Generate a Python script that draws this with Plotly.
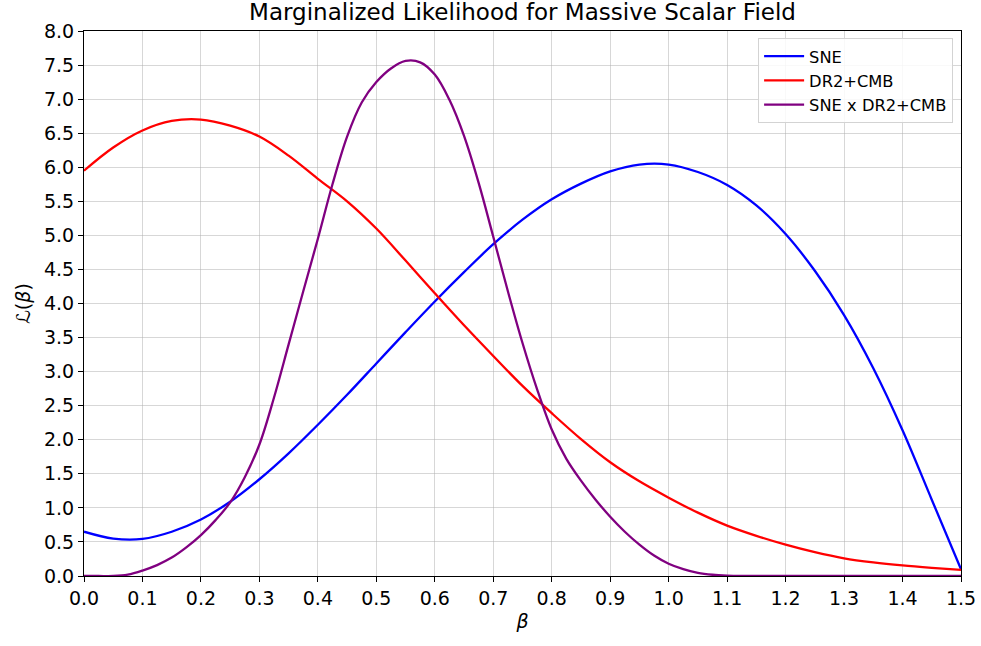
import plotly.graph_objects as go

# beta grid points for each series
beta_sne = [0.0, 0.05, 0.1, 0.15, 0.2, 0.25, 0.3, 0.35, 0.4, 0.45, 0.5, 0.55, 0.6,
            0.65, 0.7, 0.75, 0.8, 0.85, 0.9, 0.95, 1.0, 1.05, 1.1, 1.15, 1.2, 1.25,
            1.3, 1.35, 1.4, 1.45, 1.5]
sne = [0.65, 0.55, 0.545, 0.65, 0.83, 1.09, 1.42, 1.80, 2.22, 2.66, 3.12, 3.58, 4.03,
       4.46, 4.87, 5.23, 5.53, 5.76, 5.94, 6.04, 6.04, 5.93, 5.74, 5.44, 5.02, 4.48,
       3.83, 3.05, 2.14, 1.12, 0.10]

beta_dr2 = [0.0, 0.05, 0.1, 0.15, 0.2, 0.25, 0.3, 0.35, 0.4, 0.45, 0.5, 0.55, 0.6, 0.65,
            0.7, 0.75, 0.8, 0.85, 0.9, 0.95, 1.0, 1.05, 1.1, 1.15, 1.2, 1.25, 1.3, 1.35,
            1.4, 1.45, 1.5]
dr2cmb = [5.95, 6.29, 6.54, 6.68, 6.70, 6.61, 6.45, 6.17, 5.83, 5.50, 5.10, 4.63, 4.15, 3.68,
          3.23, 2.79, 2.39, 2.01, 1.67, 1.39, 1.15, 0.93, 0.74, 0.59, 0.46, 0.35, 0.26, 0.20,
          0.155, 0.12, 0.09]

beta_comb = [0.0, 0.025, 0.05, 0.075, 0.1, 0.125, 0.15, 0.175, 0.2, 0.225, 0.25, 0.275,
             0.3, 0.325, 0.35, 0.375, 0.4, 0.425, 0.45, 0.475, 0.5, 0.525, 0.55, 0.575,
             0.6, 0.625, 0.65, 0.675, 0.7, 0.725, 0.75, 0.775, 0.8, 0.825, 0.85, 0.875,
             0.9, 0.925, 0.95, 0.975, 1.0, 1.025, 1.05, 1.075, 1.1, 1.125, 1.15, 1.2,
             1.3, 1.4, 1.5]
combined = [0.0, 0.0, 0.0, 0.02, 0.08, 0.16, 0.27, 0.42, 0.60, 0.82, 1.08, 1.45,
            1.93, 2.62, 3.40, 4.18, 4.95, 5.75, 6.45, 6.95, 7.25, 7.45, 7.56, 7.54,
            7.36, 6.99, 6.46, 5.77, 4.98, 4.18, 3.42, 2.74, 2.15, 1.72, 1.40, 1.12,
            0.87, 0.65, 0.46, 0.30, 0.18, 0.10, 0.045, 0.018, 0.006, 0.001, 0.0, 0.0,
            0.0, 0.0, 0.0]

x_ticks = [round(i * 0.1, 1) for i in range(16)]
y_ticks = [i * 0.5 for i in range(17)]

fig = go.Figure()
series = [
    ("SNE", beta_sne, sne, "#0000ff"),
    ("DR2+CMB", beta_dr2, dr2cmb, "#ff0000"),
    ("SNE x DR2+CMB", beta_comb, combined, "#800080"),
]
for name, xs, ys, col in series:
    fig.add_trace(go.Scatter(x=xs, y=ys, mode="lines", name=name,
                             line=dict(color=col, width=2.3, shape="spline", smoothing=1.0)))

FONT = "DejaVu Sans"
axis_common = dict(
    showline=True, linecolor="black", linewidth=1.2, mirror=True,
    ticks="outside", ticklen=5, tickcolor="black", tickwidth=1.2,
    showgrid=True, gridcolor="rgba(176,176,176,0.5)", gridwidth=1.2,
    zeroline=False, tickfont=dict(family=FONT, size=19, color="black"),
    tickformat=".1f",
)
fig.update_xaxes(range=[0, 1.5], tickvals=x_ticks, **axis_common,
                 title=dict(text="<i>β</i>", font=dict(family=FONT, size=19, color="black"),
                            standoff=6))
fig.update_yaxes(range=[0, 8], tickvals=y_ticks, **axis_common,
                 title=dict(text="ℒ(<i>β</i>)", font=dict(family=FONT, size=19, color="black"),
                            standoff=8))

fig.update_layout(
    width=981, height=646,
    margin=dict(l=84, r=20, t=31, b=70, autoexpand=False),
    paper_bgcolor="white", plot_bgcolor="white",
    title=dict(text="Marginalized Likelihood for Massive Scalar Field",
               font=dict(family=FONT, size=23, color="black"),
               xref="paper", x=0.5, xanchor="center",
               yref="container", y=0.982, yanchor="middle"),
    legend=dict(x=0.991, y=0.987, xanchor="right", yanchor="top",
                bgcolor="rgba(255,255,255,0.85)", bordercolor="#d3d3d3", borderwidth=1,
                font=dict(family=FONT, size=16.3, color="black"),
                tracegroupgap=0, itemwidth=40),
    showlegend=True,
)

fig.write_html("out.html", config={"displayModeBar": False},
               post_script="document.body.style.margin='0';")
